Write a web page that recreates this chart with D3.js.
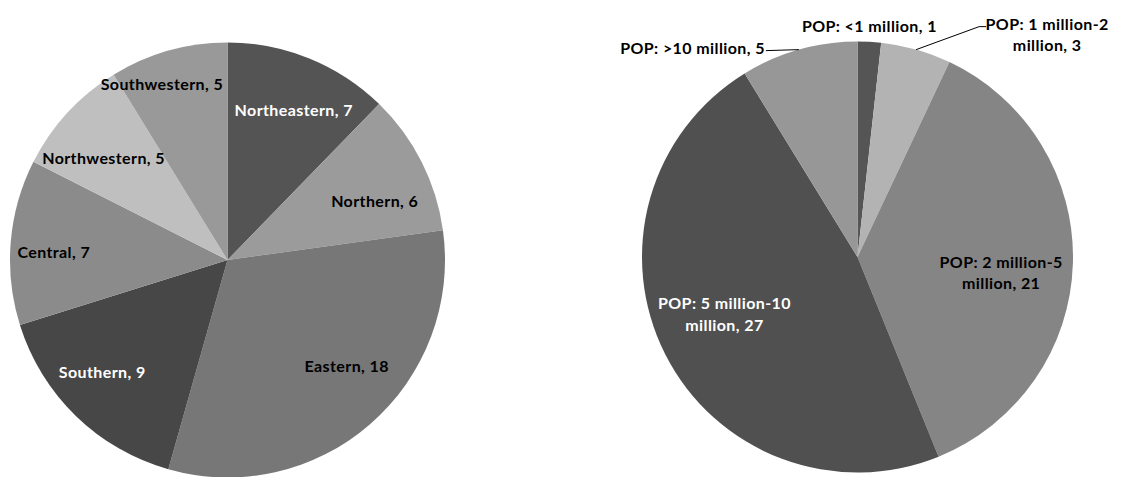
<!DOCTYPE html>
<html>
<head>
<meta charset="utf-8">
<script src="https://cdn.jsdelivr.net/npm/d3@7"></script>
<style>
  body { margin: 0; background: #fff; }
  svg { display: block; }
  text { font-family: Lato, "Noto Sans", sans-serif; font-size: 16px; font-weight: bold; letter-spacing: 0.4px; }
</style>
</head>
<body>
<svg id="chart" width="1125" height="477"></svg>
<script>
// Region pie
const regionNames = ['Northeastern', 'Northern', 'Eastern', 'Southern', 'Central', 'Northwestern', 'Southwestern'];
const regionValues = [7, 6, 18, 9, 7, 5, 5];
const regionColors = ['#545454', '#9b9b9b', '#777777', '#474747', '#8b8b8b', '#bfbfbf', '#999999'];

// Population pie
const popNames = ['POP: <1 million', 'POP: 1 million-2 million', 'POP: 2 million-5 million', 'POP: 5 million-10 million', 'POP: >10 million'];
const popValues = [1, 3, 21, 27, 5];
const popColors = ['#555555', '#b3b3b3', '#858585', '#505050', '#979797'];

const width = 1125;
const height = 477;
const lineH = 21.5;

const svg = d3.select('#chart')
  .attr('viewBox', `0 0 ${width} ${height}`);

// label placement: radius factor + angle tweak (deg), or outside with leader
const regionLabels = [
  { k: 0.76, da: 1.5, fill: '#fff' },
  { k: 0.73, da: 4.8 },
  { k: 0.73, da: -7.6 },
  { k: 0.77, da: 4.2, fill: '#fff' },
  { k: 0.80, da: -1.7 },
  { k: 0.74, da: -3 },
  { k: 0.87, da: -4.5 },
];

const popLabels = [
  { outside: 'top' },
  { outside: 'right', wrap: true },
  { k: 0.67, da: 4.2, wrap: true },
  { k: 0.67, da: 4, wrap: true, fill: '#fff' },
  { outside: 'left' },
];

function drawPie(cx, cy, r, names, values, colors, labels) {
  const g = svg.append('g').attr('transform', `translate(${cx},${cy})`);

  const pie = d3.pie().sort(null).value(d => d.value);
  const arcs = pie(names.map((name, i) => ({ name, value: values[i], color: colors[i], label: labels[i] })));

  const arc = d3.arc().innerRadius(0).outerRadius(r);

  g.selectAll('path.slice')
    .data(arcs)
    .join('path')
    .attr('class', 'slice')
    .attr('fill', d => d.data.color)
    .attr('d', arc);

  // point at radius rr and angle a (d3 convention, clockwise from top)
  const pt = (a, rr) => [rr * Math.sin(a), -rr * Math.cos(a)];

  arcs.forEach(d => {
    const lab = d.data.label;
    const mid = (d.startAngle + d.endAngle) / 2;
    const full = `${d.data.name}, ${d.data.value}`;
    let lines = [full];
    if (lab.wrap) {
      const cut = d.data.name.lastIndexOf(' ');
      lines = [d.data.name.slice(0, cut), `${d.data.name.slice(cut + 1)}, ${d.data.value}`];
    }

    let x, y, anchor = 'middle';
    if (!lab.outside) {
      [x, y] = pt(mid + lab.da * Math.PI / 180, r * lab.k);
      y -= (lines.length - 1) * lineH / 2;
    } else {
      const edge = pt(mid, r);
      let path;
      if (lab.outside === 'top') {
        x = edge[0];
        y = edge[1] - 17;
      } else if (lab.outside === 'right') {
        const elbow = [edge[0] + 63, edge[1] - 23];
        path = [edge, elbow, [elbow[0] + 7, elbow[1]]];
        x = elbow[0] + 68;
        y = elbow[1] - 4;
      } else {
        const elbow = [edge[0] - 33, edge[1] + 1];
        path = [edge, elbow];
        x = elbow[0] - 1;
        y = elbow[1] - 4;
        anchor = 'end';
      }
      if (path) {
        g.append('path')
          .attr('d', d3.line()(path))
          .attr('fill', 'none')
          .attr('stroke', '#000')
          .attr('stroke-width', 1);
      }
    }

    const t = g.append('text')
      .attr('x', x)
      .attr('y', y)
      .attr('text-anchor', anchor)
      .attr('dominant-baseline', 'central')
      .attr('fill', lab.fill || '#000');
    lines.forEach((s, i) => {
      t.append('tspan')
        .attr('x', x)
        .attr('dy', i === 0 ? 0 : lineH)
        .text(s);
    });
  });
}

drawPie(227.5, 260, 217.5, regionNames, regionValues, regionColors, regionLabels);
drawPie(857.5, 257, 215.5, popNames, popValues, popColors, popLabels);
</script>
</body>
</html>
